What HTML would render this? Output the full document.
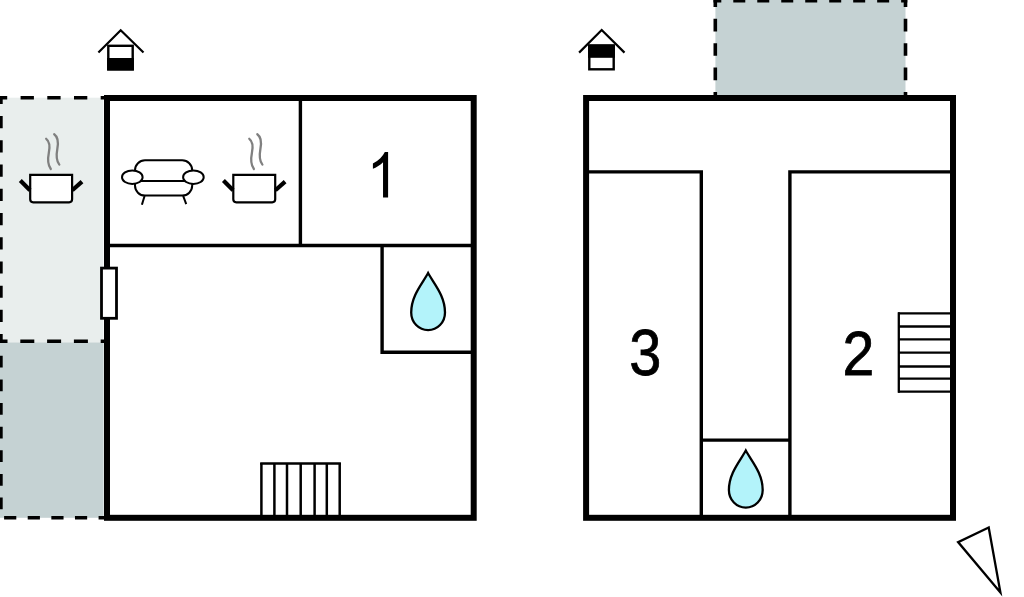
<!DOCTYPE html>
<html>
<head>
<meta charset="utf-8">
<style>
html,body{margin:0;padding:0;background:#fff;}
body{width:1024px;height:597px;overflow:hidden;font-family:"Liberation Sans",sans-serif;}
svg{display:block;}
text{font-family:"Liberation Sans",sans-serif;fill:#000;}
</style>
</head>
<body>
<svg width="1024" height="597" viewBox="0 0 1024 597">
<rect x="0" y="0" width="1024" height="597" fill="#ffffff"/>

<!-- LEFT PLAN : shaded terrace areas -->
<rect x="0" y="97.7" width="103.3" height="244.7" fill="#e9eeed"/>
<rect x="0" y="342.4" width="103.6" height="175.4" fill="#c5d2d3"/>

<!-- dashed outlines (left plan) -->
<g stroke="#000" stroke-width="3.6" fill="none">
  <line x1="0" y1="97.7" x2="104" y2="97.7" stroke-dasharray="13.3 13.4" stroke-dashoffset="6.1"/>
  <line x1="0" y1="341.2" x2="104" y2="341.2" stroke-dasharray="14 12.8" stroke-dashoffset="6.5"/>
  <line x1="0.9" y1="96" x2="0.9" y2="343" stroke-dasharray="12.2 12.02" stroke-dashoffset="4.12"/>
  <line x1="0.9" y1="343.9" x2="0.9" y2="517.8" stroke-dasharray="11.8 11.82" stroke-dashoffset="11.72"/>
  <line x1="0" y1="517.8" x2="104" y2="517.8" stroke-dasharray="12.2 11.42" stroke-dashoffset="-4.1"/>
</g>

<!-- LEFT PLAN : walls -->
<rect x="107" y="98" width="366.7" height="419.8" fill="#fff" stroke="#000" stroke-width="6"/>
<g stroke="#000" stroke-width="3.4" fill="none">
  <line x1="107" y1="245.5" x2="473" y2="245.5"/>
  <line x1="300.4" y1="98" x2="300.4" y2="245.5"/>
  <polyline points="382.1,245.5 382.1,352.3 473,352.3"/>
</g>

<!-- RIGHT PLAN : terrace -->
<rect x="715.4" y="0" width="190.1" height="98" fill="#c5d2d3"/>
<g stroke="#000" stroke-width="3.6" fill="none">
  <line x1="713.5" y1="0.8" x2="907.3" y2="0.8" stroke-dasharray="12 11.98" stroke-dashoffset="4.2"/>
  <line x1="715.3" y1="0" x2="715.3" y2="95" stroke-dasharray="12.6 11.8" stroke-dashoffset="5.6"/>
  <line x1="905.5" y1="0" x2="905.5" y2="95" stroke-dasharray="12.6 11.8" stroke-dashoffset="5.6"/>
</g>

<!-- RIGHT PLAN : walls -->
<rect x="586.1" y="98" width="366.9" height="419.8" fill="#fff" stroke="#000" stroke-width="6"/>
<g stroke="#000" stroke-width="3.4" fill="none">
  <polyline points="586,171.9 701.3,171.9 701.3,517"/>
  <polyline points="953,171.9 789.9,171.9 789.9,517"/>
  <line x1="701.3" y1="440.1" x2="789.9" y2="440.1"/>
</g>

<!-- window on left wall -->
<rect x="101.5" y="268.1" width="15" height="50.2" fill="#fff" stroke="#000" stroke-width="2.8"/>

<!-- radiator bottom -->
<g stroke="#000" stroke-width="2.5" fill="none">
  <line x1="260.2" y1="463.6" x2="340.9" y2="463.6"/>
  <line x1="261.4" y1="463" x2="261.4" y2="516"/>
  <line x1="274.4" y1="463" x2="274.4" y2="516"/>
  <line x1="287" y1="463" x2="287" y2="516"/>
  <line x1="300.7" y1="463" x2="300.7" y2="516"/>
  <line x1="314.6" y1="463" x2="314.6" y2="516"/>
  <line x1="326.8" y1="463" x2="326.8" y2="516"/>
  <line x1="339.7" y1="463" x2="339.7" y2="516"/>
</g>

<!-- house icon 1 -->
<g id="house1">
  <polyline points="98.4,52.5 120.7,30.2 143.5,52.5" fill="none" stroke="#000" stroke-width="2.2" stroke-linecap="butt" stroke-linejoin="miter"/>
  <rect x="108.3" y="45.8" width="24.4" height="23.5" fill="#fff" stroke="#000" stroke-width="2.4"/>
  <rect x="107.1" y="58" width="26.8" height="12.5" fill="#000"/>
</g>

<!-- house icon 2 -->
<g id="house2">
  <polyline points="579.1,52.6 601.7,30 624.5,52.6" fill="none" stroke="#000" stroke-width="2.2"/>
  <rect x="589.3" y="45.6" width="24.4" height="23.7" fill="#fff" stroke="#000" stroke-width="2.4"/>
  <rect x="588.1" y="44.4" width="26.8" height="13.4" fill="#000"/>
</g>

<!-- pot symbol -->
<defs>
<g id="pot">
  <path d="M30.2,174.8 H72.1 V199.3 Q72.1,202.3 69.1,202.3 H33.2 Q30.2,202.3 30.2,199.3 Z" fill="#fff" stroke="#000" stroke-width="2.2"/>
  <line x1="20.3" y1="180.6" x2="30" y2="190.2" stroke="#000" stroke-width="4.2"/>
  <line x1="72.3" y1="190.2" x2="82" y2="181.6" stroke="#000" stroke-width="4.2"/>
  <path d="M46.2,138.8 C50.5,142 49.8,148 48.8,153 C47.6,159 47.8,165 50.8,169" fill="none" stroke="#808080" stroke-width="2.3" stroke-linecap="round"/>
  <path d="M54.2,134.2 C58.8,137.5 58.3,144 57.3,149 C56.2,155 56.4,161 59.3,164.6" fill="none" stroke="#808080" stroke-width="2.3" stroke-linecap="round"/>
</g>
</defs>
<use href="#pot"/>
<use href="#pot" x="203.1"/>

<!-- sofa -->
<g fill="#fff" stroke="#000" stroke-width="2">
  <line x1="144.6" y1="196" x2="141.9" y2="204.8"/>
  <line x1="183.2" y1="196" x2="186.2" y2="204.2"/>
  <rect x="135" y="160.3" width="57.2" height="35.3" rx="10" ry="10"/>
  <line x1="140" y1="181.1" x2="186" y2="181.1"/>
  <ellipse cx="132.3" cy="177.2" rx="10.3" ry="6.8"/>
  <ellipse cx="193.4" cy="177.2" rx="10.3" ry="6.8"/>
</g>

<!-- drop -->
<defs>
<path id="drop" d="M428.1,273 C422.5,283.5 411.2,295.5 411.2,312.5 C411.2,322.5 418.8,330.1 428.1,330.1 C437.4,330.1 445,322.5 445,312.5 C445,295.5 433.7,283.5 428.1,273 Z" fill="#b3f3fa" stroke="#000" stroke-width="2.3" stroke-linejoin="miter"/>
</defs>
<use href="#drop"/>
<use href="#drop" x="317.7" y="177.5"/>

<!-- numbers -->
<path id="n1" transform="translate(366.62 197.5) scale(0.02815 -0.03084)" d="M763,0 H583 V1147 Q518,1085 412.5,1023 Q307,961 223,930 V1104 Q374,1175 487,1276 Q600,1377 647,1472 H763 Z" fill="#000"/>
<text id="n3" x="645.3" y="374.7" font-size="64.8" stroke="#000" stroke-width="0.8" text-anchor="middle" transform="translate(645.3 0) scale(0.89 1) translate(-645.3 0)">3</text>
<text id="n2" x="858.3" y="374.8" font-size="63.5" stroke="#000" stroke-width="0.8" text-anchor="middle" transform="translate(858.3 0) scale(0.90 1) translate(-858.3 0)">2</text>

<!-- stairs right -->
<g stroke="#000" stroke-width="2.3" fill="none">
  <line x1="898.8" y1="312.3" x2="898.8" y2="392.7"/>
  <line x1="898" y1="313.4" x2="951" y2="313.4"/>
  <line x1="898" y1="326.5" x2="951" y2="326.5"/>
  <line x1="898" y1="339.3" x2="951" y2="339.3"/>
  <line x1="898" y1="352.7" x2="951" y2="352.7"/>
  <line x1="898" y1="366.5" x2="951" y2="366.5"/>
  <line x1="898" y1="378.7" x2="951" y2="378.7"/>
  <line x1="898" y1="391.6" x2="951" y2="391.6"/>
</g>

<!-- compass triangle -->
<polygon points="988.7,527.5 958.1,542.1 1000.4,592.4" fill="#fff" stroke="#000" stroke-width="2.3" stroke-linejoin="miter"/>
</svg>
</body>
</html>
